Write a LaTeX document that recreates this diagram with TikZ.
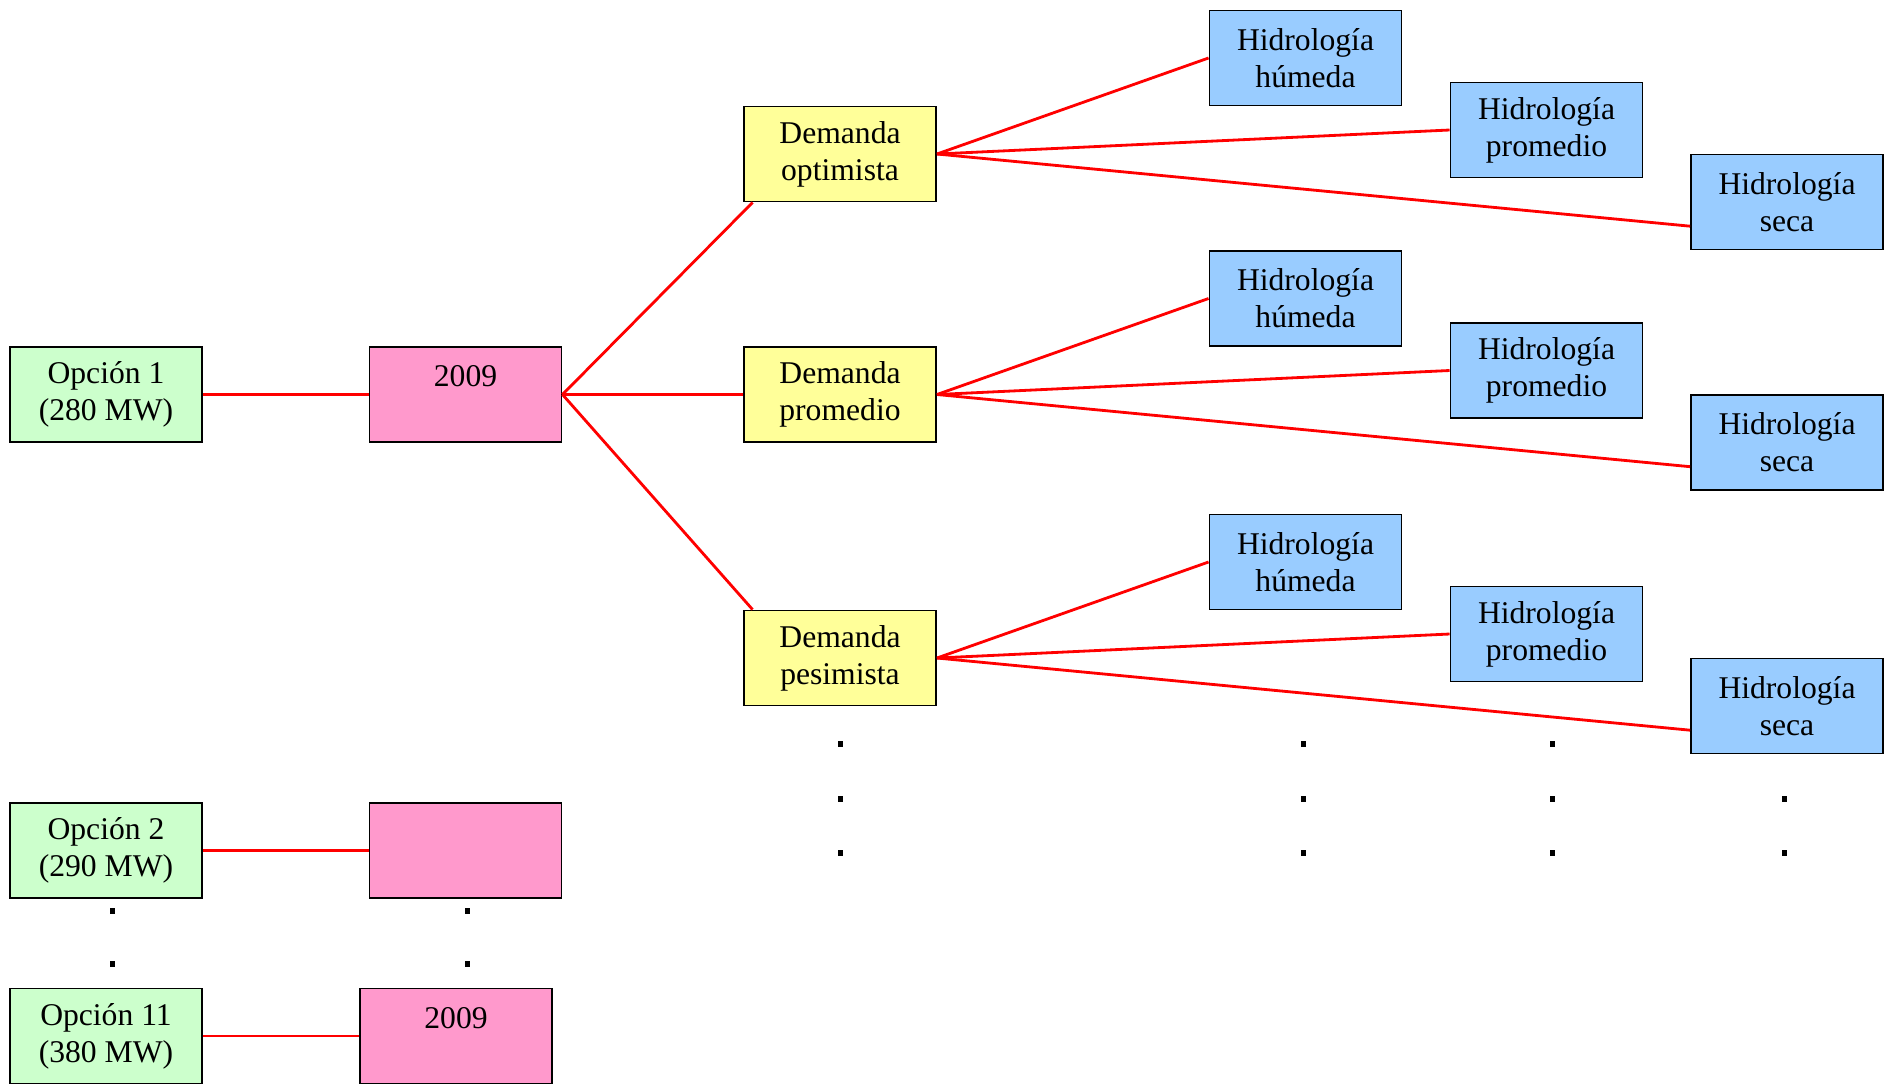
\documentclass[tikz,border=0pt]{standalone}
\usepackage{fontspec}
\setmainfont{Liberation Serif}
\usepackage{xcolor}
\usepackage{tikz}
\usetikzlibrary{positioning}
\definecolor{OptGreen}{HTML}{CCFFCC}
\definecolor{YearPink}{HTML}{FF99CC}
\definecolor{DemYellow}{HTML}{FFFF99}
\definecolor{HidBlue}{HTML}{99CCFF}

\begin{document}
\begin{tikzpicture}[
            box/.style={draw=black, line width=1.1pt, align=center, font=\fontsize{18}{21}\selectfont, minimum width=3.84cm, minimum height=1.9cm, inner sep=0pt},
            opcion/.style={box, fill=OptGreen},
            anio/.style={box, fill=YearPink},
            demanda/.style={box, fill=DemYellow},
            hidro/.style={box, fill=HidBlue},
            link/.style={red, line width=1.6pt},
            vdot/.style={fill=black}
        ]
            \useasboundingbox (0,0) rectangle (37.74,-21.7);

            % Options and years
            \node[opcion] at (2.12, -7.89) (op1) {Opción 1\\(280 MW)};
            \node[anio] at (9.31, -7.89) (y1) {2009\\\mbox{}};
            \draw[link] (op1.east) -- (y1.west);

            \node[opcion] at (2.12, -17.01) (op2) {Opción 2\\(290 MW)};
            \node[anio] at (9.31, -17.01) (y2) {};
            \draw[link] (op2.east) -- (y2.west);

            \node[opcion] at (2.12, -20.72) (op11) {Opción 11\\(380 MW)};
            \node[anio] at (9.12, -20.72) (y11) {2009\\\mbox{}};
            \draw[link] (op11.east) -- (y11.west);

            % Demand scenarios
            \node[demanda] at (16.8, -3.08) (optim) {Demanda\\optimista};
            \node[demanda] at (16.8, -7.89) (prom) {Demanda\\promedio};
            \node[demanda] at (16.8, -13.16) (pesim) {Demanda\\pesimista};

            \draw[link] (y1.east) -- (optim.-151);
            \draw[link] (y1.east) -- (prom.west);
            \draw[link] (y1.east) -- (pesim.151);

            % Hydrology scenarios
            \foreach \d/\y in {optim/-3.08, prom/-7.89, pesim/-13.16} {
                \node[hidro] at (26.11, \y+1.92) (\d-hum) {Hidrología\\húmeda};
                \node[hidro] at (30.93, \y+0.48) (\d-prom) {Hidrología\\promedio};
                \node[hidro] at (35.74, \y-0.96) (\d-seca) {Hidrología\\seca};
                \draw[link] (\d.east) -- (\d-hum.west);
                \draw[link] (\d.east) -- (\d-prom.west);
                \draw[link] (\d.east) -- (\d-seca.-166.5);
            }

            % Continuation dots
            \foreach \x/\y in {2.24/-18.22, 2.24/-19.28, 9.34/-18.22, 9.34/-19.28,
                               16.8/-14.88, 16.8/-15.98, 16.8/-17.06,
                               26.06/-14.88, 26.06/-15.98, 26.06/-17.06,
                               31.04/-14.88, 31.04/-15.98, 31.04/-17.06,
                               35.68/-15.98, 35.68/-17.06}
                \fill[vdot] (\x-0.05, \y-0.06) rectangle (\x+0.05, \y+0.06);

        \end{tikzpicture}
\end{document}
